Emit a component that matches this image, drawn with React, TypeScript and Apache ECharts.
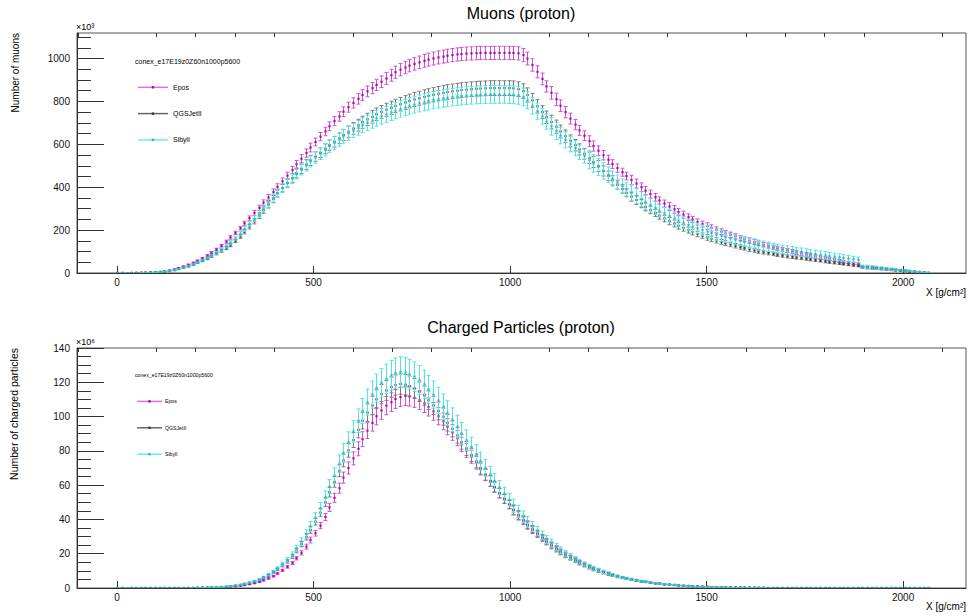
import React, { useEffect, useRef } from "react";
import * as echarts from "echarts";

// Slant depth bins (g/cm^2)
const DEPTH_STEP = 12;
const DEPTH = Array.from({ length: 173 }, (_, i) => i * DEPTH_STEP);

const MODELS = ["Epos", "QGSJetII", "Sibyll"];
const LEGEND_TITLE = "conex_e17E19z0Z60n1000p5600";

// Muons, units of 10^3
const EPOS_MUONS = [
  0, 0, 0, 0, 1, 1, 2, 3, 4, 6,
  8, 12, 17, 23, 30, 38, 47, 57, 68, 81,
  95, 110, 127, 146, 166, 187, 209, 232, 256, 280,
  304, 328, 352, 377, 402, 428, 454, 480, 507, 533,
  559, 585, 611, 636, 660, 684, 708, 730, 752, 773,
  793, 812, 830, 847, 862, 877, 892, 907, 922, 936,
  948, 958, 967, 975, 982, 989, 995, 1000, 1005, 1009,
  1013, 1016, 1019, 1021, 1023, 1024, 1025, 1026, 1026, 1026,
  1026, 1026, 1026, 1026, 1026, 1024, 1016, 1000, 970, 938,
  905, 870, 840, 810, 780, 750, 720, 692, 665, 640,
  615, 592, 570, 549, 528, 508, 489, 470, 452, 434,
  417, 400, 384, 368, 353, 338, 324, 310, 297, 284,
  272, 260, 249, 238, 228, 219, 210, 201, 193, 185,
  178, 171, 164, 157, 151, 144, 138, 132, 126, 120,
  115, 110, 105, 100, 95, 90, 86, 82, 77, 73,
  69, 65, 61, 57, 53, 49, 46, 43, 29, 27,
  25, 23, 21, 19, 17, 15, 13, 11, 9, 7,
  5, 3, 1,
];
const QGS_MUONS = [
  0, 0, 0, 0, 0, 1, 1, 2, 3, 4,
  6, 9, 13, 18, 24, 31, 39, 47, 56, 66,
  78, 90, 103, 116, 130, 149, 170, 192, 216, 241,
  267, 293, 319, 345, 371, 396, 420, 443, 465, 486,
  506, 525, 543, 561, 579, 596, 612, 628, 644, 659,
  674, 689, 703, 716, 728, 740, 751, 761, 770, 779,
  787, 795, 802, 809, 815, 821, 826, 831, 836, 840,
  844, 847, 850, 853, 855, 857, 859, 860, 861, 862,
  862, 862, 862, 862, 861, 857, 848, 830, 805, 777,
  750, 726, 704, 682, 660, 638, 616, 596, 576, 556,
  537, 518, 499, 476, 453, 432, 412, 392, 374, 356,
  340, 324, 308, 294, 280, 267, 254, 242, 231, 220,
  210, 200, 191, 182, 174, 166, 159, 152, 145, 139,
  133, 127, 121, 116, 111, 106, 101, 97, 93, 89,
  85, 81, 78, 75, 72, 69, 66, 63, 60, 57,
  54, 51, 48, 45, 42, 39, 36, 33, 26, 24,
  22, 20, 18, 16, 14, 12, 10, 9, 7, 5,
  3, 2, 0,
];
const SIBYLL_MUONS = [
  0, 0, 0, 0, 0, 1, 1, 2, 3, 5,
  7, 10, 14, 19, 25, 32, 40, 49, 59, 70,
  81, 94, 108, 124, 142, 162, 183, 205, 228, 252,
  276, 300, 325, 350, 373, 396, 418, 440, 461, 481,
  501, 520, 539, 557, 574, 591, 607, 622, 637, 651,
  664, 677, 689, 700, 711, 721, 731, 740, 749, 757,
  765, 772, 779, 785, 791, 796, 801, 806, 810, 814,
  817, 820, 823, 825, 827, 829, 830, 831, 832, 833,
  833, 833, 833, 832, 831, 828, 821, 805, 780, 755,
  730, 706, 684, 662, 641, 621, 601, 582, 563, 545,
  528, 511, 495, 476, 458, 440, 423, 406, 390, 374,
  359, 344, 330, 316, 303, 290, 278, 266, 255, 244,
  234, 224, 216, 208, 200, 193, 186, 179, 173, 167,
  161, 155, 150, 145, 140, 135, 130, 126, 122, 118,
  114, 110, 106, 103, 100, 97, 94, 91, 88, 85,
  82, 79, 76, 73, 70, 67, 64, 61, 30, 28,
  26, 24, 22, 20, 18, 16, 14, 12, 10, 7,
  5, 3, 1,
];

// Charged particles, units of 10^6
const EPOS_CHARGED = [
  0, 0, 0, 0, 0, 0, 0, 0, 0, 0,
  0, 0, 0, 0, 0, 0, 0, 0.1, 0.1, 0.2,
  0.2, 0.3, 0.4, 0.6, 0.8, 1.0, 1.3, 1.7, 2.2, 2.8,
  3.6, 4.5, 5.6, 6.9, 8.5, 10.3, 12.3, 14.6, 17.4, 20.5,
  24.1, 28.0, 31.9, 36.4, 41.4, 47.0, 52.6, 58.2, 64.4, 70.0,
  75.6, 81.2, 86.8, 91.8, 96.3, 100.2, 103.6, 106.4, 108.4, 110.3,
  111.4, 112.0, 111.7, 110.9, 109.5, 107.7, 105.6, 103.0, 100.2, 97.2,
  94.1, 90.7, 87.4, 83.8, 80.2, 76.6, 73.0, 69.4, 65.9, 62.3,
  58.8, 55.4, 52.1, 48.8, 45.7, 42.7, 39.8, 37.0, 34.4, 31.9,
  29.6, 27.3, 25.2, 23.2, 21.3, 19.6, 17.9, 16.5, 15.0, 13.7,
  12.4, 11.3, 10.3, 9.3, 8.4, 7.6, 6.8, 6.2, 5.6, 5.0,
  4.5, 4.0, 3.6, 3.2, 2.9, 2.6, 2.2, 2.0, 1.8, 1.6,
  1.3, 1.2, 1.1, 0.9, 0.8, 0.7, 0.6, 0.5, 0.5, 0.4,
  0.4, 0.3, 0.3, 0.2, 0.2, 0.2, 0.1, 0.1, 0, 0,
  0, 0, 0, 0, 0, 0, 0, 0, 0, 0,
  0, 0, 0, 0, 0, 0, 0, 0, 0, 0,
  0, 0, 0, 0, 0, 0, 0, 0, 0, 0,
  0, 0, 0,
];
const QGS_CHARGED = [
  0, 0, 0, 0, 0, 0, 0, 0, 0, 0,
  0, 0, 0, 0, 0, 0, 0, 0.1, 0.2, 0.2,
  0.4, 0.5, 0.6, 0.8, 1.1, 1.4, 1.8, 2.4, 3.0, 3.8,
  4.8, 6.0, 7.4, 9.0, 10.9, 13.1, 15.5, 18.4, 21.8, 25.6,
  29.8, 33.9, 38.7, 44.0, 50.0, 55.9, 61.9, 68.4, 74.4, 80.3,
  86.3, 92.2, 97.6, 102.3, 106.5, 110.1, 113.1, 115.2, 117.2, 118.4,
  119.0, 118.6, 117.8, 116.4, 114.5, 112.2, 109.5, 106.5, 103.3, 100.0,
  96.4, 92.8, 89.0, 85.2, 81.4, 77.6, 73.8, 70.0, 66.2, 62.5,
  58.9, 55.3, 51.9, 48.6, 45.3, 42.2, 39.3, 36.5, 33.9, 31.4,
  29.0, 26.8, 24.6, 22.6, 20.8, 19.0, 17.5, 15.9, 14.5, 13.2,
  12.0, 10.9, 9.9, 8.9, 8.1, 7.3, 6.5, 5.9, 5.4, 4.8,
  4.3, 3.8, 3.5, 3.1, 2.7, 2.4, 2.1, 1.9, 1.7, 1.4,
  1.3, 1.1, 1.0, 0.8, 0.7, 0.6, 0.5, 0.5, 0.4, 0.4,
  0.3, 0.3, 0.2, 0.2, 0.2, 0.1, 0.1, 0.1, 0, 0,
  0, 0, 0, 0, 0, 0, 0, 0, 0, 0,
  0, 0, 0, 0, 0, 0, 0, 0, 0, 0,
  0, 0, 0, 0, 0, 0, 0, 0, 0, 0,
  0, 0, 0,
];
const SIBYLL_CHARGED = [
  0, 0, 0, 0, 0, 0, 0, 0, 0, 0,
  0, 0, 0, 0, 0, 0, 0, 0.1, 0.2, 0.3,
  0.4, 0.5, 0.6, 0.9, 1.1, 1.5, 1.9, 2.5, 3.2, 4.0,
  5.0, 6.3, 7.9, 9.5, 11.5, 13.9, 16.4, 19.5, 23.1, 27.1,
  31.5, 35.9, 41.0, 46.6, 52.9, 59.2, 65.5, 72.5, 78.8, 85.1,
  91.4, 97.6, 103.3, 108.4, 112.8, 116.6, 119.7, 122.0, 124.1, 125.4,
  126.0, 125.6, 124.7, 123.3, 121.2, 118.8, 115.9, 112.8, 109.4, 105.8,
  102.1, 98.2, 94.2, 90.2, 86.2, 82.2, 78.1, 74.1, 70.1, 66.2,
  62.4, 58.6, 55.0, 51.4, 48.0, 44.7, 41.6, 38.6, 35.9, 33.2,
  30.7, 28.4, 26.1, 23.9, 22.0, 20.1, 18.5, 16.8, 15.4, 14.0,
  12.7, 11.5, 10.5, 9.4, 8.6, 7.7, 6.9, 6.2, 5.7, 5.1,
  4.6, 4.0, 3.7, 3.3, 2.9, 2.5, 2.2, 2.0, 1.8, 1.5,
  1.4, 1.2, 1.1, 0.8, 0.7, 0.6, 0.5, 0.5, 0.4, 0.4,
  0.3, 0.3, 0.2, 0.2, 0.2, 0.1, 0.1, 0.1, 0, 0,
  0, 0, 0, 0, 0, 0, 0, 0, 0, 0,
  0, 0, 0, 0, 0, 0, 0, 0, 0, 0,
  0, 0, 0, 0, 0, 0, 0, 0, 0, 0,
  0, 0, 0,
];

// Relative error per 100 g/cm^2 depth segment (0-100, 100-200, ... 2000-2100)
const EPOS_MUON_RELERR = [0.1, 0.08, 0.05, 0.04, 0.035, 0.03, 0.03, 0.03, 0.03, 0.03, 0.03, 0.035, 0.04, 0.05, 0.06, 0.07, 0.08, 0.09, 0.1, 0.2, 0.3];
const QGS_MUON_RELERR = [0.1, 0.08, 0.06, 0.05, 0.045, 0.04, 0.04, 0.04, 0.04, 0.04, 0.04, 0.045, 0.05, 0.06, 0.07, 0.08, 0.09, 0.1, 0.12, 0.2, 0.3];
const SIBYLL_MUON_RELERR = [0.1, 0.08, 0.06, 0.055, 0.05, 0.05, 0.05, 0.05, 0.05, 0.05, 0.05, 0.06, 0.08, 0.1, 0.12, 0.15, 0.18, 0.2, 0.22, 0.3, 0.3];
const EPOS_CHARGED_RELERR = [0.1, 0.1, 0.08, 0.07, 0.06, 0.05, 0.05, 0.05, 0.05, 0.05, 0.06, 0.07, 0.08, 0.1, 0.1, 0.1, 0.1, 0.1, 0.1, 0.1, 0.1];
const QGS_CHARGED_RELERR = [0.1, 0.1, 0.08, 0.07, 0.06, 0.05, 0.05, 0.05, 0.05, 0.05, 0.06, 0.07, 0.08, 0.1, 0.1, 0.1, 0.1, 0.1, 0.1, 0.1, 0.1];
const SIBYLL_CHARGED_RELERR = [0.12, 0.12, 0.1, 0.09, 0.08, 0.07, 0.07, 0.07, 0.07, 0.07, 0.08, 0.09, 0.1, 0.12, 0.12, 0.12, 0.12, 0.12, 0.12, 0.12, 0.12];

const X_MAJOR = [0, 500, 1000, 1500, 2000];
const X_MINOR = [-100, 100, 200, 300, 400, 600, 700, 800, 900, 1100, 1200, 1300, 1400, 1600, 1700, 1800, 1900, 2100];
const MUON_Y_MAJOR = [0, 200, 400, 600, 800, 1000];
const MUON_Y_MINOR = [50, 100, 150, 250, 300, 350, 450, 500, 550, 650, 700, 750, 850, 900, 950, 1050, 1100];
const CHARGED_Y_MAJOR = [0, 20, 40, 60, 80, 100, 120, 140];
const CHARGED_Y_MINOR = [5, 10, 15, 25, 30, 35, 45, 50, 55, 65, 70, 75, 85, 90, 95, 105, 110, 115, 125, 130, 135];

const X_MIN = -102;
const X_MAX = 2160;
const MUON_Y_MAX = 1119;
const CHARGED_Y_MAX = 140;

const COLORS = [
  { bar: "#d050d0", mark: "#b000b0", legend: "#e070e0" },
  { bar: "#7a7a7a", mark: "#3a3a3a", legend: "#666666" },
  { bar: "#50e4e4", mark: "#20c0c0", legend: "#66eeee" },
];

const FONT = '"Liberation Sans", Arial, Helvetica, sans-serif';

function buildPoints(values: number[], relErr: number[]) {
  return values.map((v, i) => {
    const seg = Math.min(relErr.length - 1, Math.floor(DEPTH[i] / 100));
    return [DEPTH[i], v, v * relErr[seg]];
  });
}

function makeRenderItem(barColor: string, markColor: string) {
  return (params: any, api: any) => {
    const x = api.value(0);
    const y = api.value(1);
    const e = api.value(2);
    const c = api.coord([x, y]);
    const hi = api.coord([x, y + e]);
    const lo = api.coord([x, Math.max(0, y - e)]);
    const cx = Math.round(c[0]) + 0.5;
    const children: any[] = [];
    if (e > 0) {
      children.push({ type: "line", shape: { x1: cx, y1: hi[1], x2: cx, y2: lo[1] }, style: { stroke: barColor, lineWidth: 1 } });
      children.push({ type: "line", shape: { x1: cx - 2, y1: hi[1], x2: cx + 2, y2: hi[1] }, style: { stroke: barColor, lineWidth: 1 } });
      children.push({ type: "line", shape: { x1: cx - 2, y1: lo[1], x2: cx + 2, y2: lo[1] }, style: { stroke: barColor, lineWidth: 1 } });
    }
    children.push({ type: "rect", shape: { x: cx - 1.1, y: c[1] - 1.1, width: 2.2, height: 2.2 }, style: { fill: markColor } });
    return { type: "group", children };
  };
}

function majorX(gridIndex: number) {
  return {
    gridIndex,
    type: "value",
    min: X_MIN,
    max: X_MAX,
    axisLine: { show: true, onZero: false, lineStyle: { color: "#333", width: 1 } },
    axisTick: { show: true, inside: true, length: 7, customValues: X_MAJOR, lineStyle: { color: "#333" } },
    axisLabel: { show: true, customValues: X_MAJOR, margin: 4, fontSize: 10, color: "#111", fontFamily: FONT, formatter: (v: number) => String(v) },
    splitLine: { show: false },
  };
}
function minorX(gridIndex: number) {
  return {
    gridIndex,
    type: "value",
    min: X_MIN,
    max: X_MAX,
    axisLine: { show: false, onZero: false },
    axisTick: { show: true, inside: true, length: 4, customValues: X_MINOR, lineStyle: { color: "#333" } },
    axisLabel: { show: false },
    splitLine: { show: false },
  };
}
function majorY(gridIndex: number, max: number, ticks: number[]) {
  return {
    gridIndex,
    type: "value",
    position: "left",
    min: 0,
    max,
    axisLine: { show: true, onZero: false, lineStyle: { color: "#333", width: 1 } },
    axisTick: { show: true, inside: true, length: 27, customValues: ticks, lineStyle: { color: "#333" } },
    axisLabel: { show: true, customValues: ticks, margin: 7, fontSize: 10, color: "#111", fontFamily: FONT, formatter: (v: number) => String(v) },
    splitLine: { show: false },
  };
}
function minorY(gridIndex: number, max: number, ticks: number[]) {
  return {
    gridIndex,
    type: "value",
    position: "left",
    offset: 0,
    min: 0,
    max,
    axisLine: { show: false, onZero: false },
    axisTick: { show: true, inside: true, length: 14, customValues: ticks, lineStyle: { color: "#333" } },
    axisLabel: { show: false },
    splitLine: { show: false },
  };
}

function legendGraphics(top: number, spacing: number, titleSize: number, labelSize: number, lineX1: number, lineX2: number, labelX: number) {
  const els: any[] = [];
  els.push({
    type: "text",
    x: 135,
    y: top,
    style: { text: LEGEND_TITLE, fontSize: titleSize, fontFamily: FONT, fill: "#000", align: "left", verticalAlign: "middle" },
  });
  MODELS.forEach((name, i) => {
    const y = top + spacing * (i + 1);
    const mid = (lineX1 + lineX2) / 2;
    els.push({ type: "line", shape: { x1: lineX1, y1: y, x2: lineX2, y2: y }, style: { stroke: COLORS[i].legend, lineWidth: 1.5 } });
    els.push({ type: "rect", shape: { x: mid - 1.2, y: y - 1.2, width: 2.4, height: 2.4 }, style: { fill: COLORS[i].mark } });
    els.push({
      type: "text",
      x: labelX,
      y,
      style: { text: name, fontSize: labelSize, fontFamily: FONT, fill: "#000", align: "left", verticalAlign: "middle" },
    });
  });
  return els;
}

export default function App() {
  const ref = useRef<HTMLDivElement>(null);

  useEffect(() => {
    if (!ref.current) return;
    const chart = echarts.init(ref.current, undefined, { renderer: "svg" });

    const muonSets = [
      buildPoints(EPOS_MUONS, EPOS_MUON_RELERR),
      buildPoints(QGS_MUONS, QGS_MUON_RELERR),
      buildPoints(SIBYLL_MUONS, SIBYLL_MUON_RELERR),
    ];
    const chargedSets = [
      buildPoints(EPOS_CHARGED, EPOS_CHARGED_RELERR),
      buildPoints(QGS_CHARGED, QGS_CHARGED_RELERR),
      buildPoints(SIBYLL_CHARGED, SIBYLL_CHARGED_RELERR),
    ];

    const series: any[] = [];
    muonSets.forEach((data, i) => {
      series.push({
        type: "custom",
        name: MODELS[i],
        xAxisIndex: 0,
        yAxisIndex: 0,
        data,
        encode: { x: 0, y: 1 },
        clip: true,
        silent: true,
        renderItem: makeRenderItem(COLORS[i].bar, COLORS[i].mark),
      });
    });
    chargedSets.forEach((data, i) => {
      series.push({
        type: "custom",
        name: MODELS[i] + " charged",
        xAxisIndex: 2,
        yAxisIndex: 2,
        data,
        encode: { x: 0, y: 1 },
        clip: true,
        silent: true,
        renderItem: makeRenderItem(COLORS[i].bar, COLORS[i].mark),
      });
    });

    const graphic: any[] = [
      { type: "text", x: 521, y: 13, style: { text: "Muons (proton)", fontSize: 16, fontFamily: FONT, fill: "#000", align: "center", verticalAlign: "middle" } },
      { type: "text", x: 521, y: 327, style: { text: "Charged Particles (proton)", fontSize: 16, fontFamily: FONT, fill: "#000", align: "center", verticalAlign: "middle" } },
      { type: "text", x: 15, y: 33, rotation: Math.PI / 2, style: { text: "Number of muons", fontSize: 10, fontFamily: FONT, fill: "#000", align: "right", verticalAlign: "middle" } },
      { type: "text", x: 14, y: 348, rotation: Math.PI / 2, style: { text: "Number of charged particles", fontSize: 10.5, fontFamily: FONT, fill: "#000", align: "right", verticalAlign: "middle" } },
      { type: "text", x: 966, y: 292, style: { text: "X [g/cm\u00b2]", fontSize: 10, fontFamily: FONT, fill: "#000", align: "right", verticalAlign: "middle" } },
      { type: "text", x: 966, y: 606, style: { text: "X [g/cm\u00b2]", fontSize: 10, fontFamily: FONT, fill: "#000", align: "right", verticalAlign: "middle" } },
      { type: "text", x: 76, y: 27, style: { text: "\u00d710\u00b3", fontSize: 9, fontFamily: FONT, fill: "#000", align: "left", verticalAlign: "middle" } },
      { type: "text", x: 76, y: 342, style: { text: "\u00d710\u2076", fontSize: 9, fontFamily: FONT, fill: "#000", align: "left", verticalAlign: "middle" } },
      ...legendGraphics(61, 26.3, 7, 7, 138, 168, 173),
      ...legendGraphics(375, 26.4, 5.2, 5.2, 137, 162, 165),
    ];

    chart.setOption({
      animation: false,
      backgroundColor: "#ffffff",
      grid: [
        { left: 77, top: 33, width: 889, height: 240, show: true, borderColor: "#555", borderWidth: 1, backgroundColor: "transparent" },
        { left: 77, top: 348, width: 889, height: 240, show: true, borderColor: "#555", borderWidth: 1, backgroundColor: "transparent" },
      ],
      xAxis: [majorX(0), minorX(0), majorX(1), minorX(1)],
      yAxis: [
        majorY(0, MUON_Y_MAX, MUON_Y_MAJOR),
        minorY(0, MUON_Y_MAX, MUON_Y_MINOR),
        majorY(1, CHARGED_Y_MAX, CHARGED_Y_MAJOR),
        minorY(1, CHARGED_Y_MAX, CHARGED_Y_MINOR),
      ],
      series,
      graphic,
    });

    return () => chart.dispose();
  }, []);

  return (
    <div
      ref={ref}
      style={{ position: "absolute", left: 0, top: 0, width: 969, height: 616, background: "#fff" }}
    />
  );
}
